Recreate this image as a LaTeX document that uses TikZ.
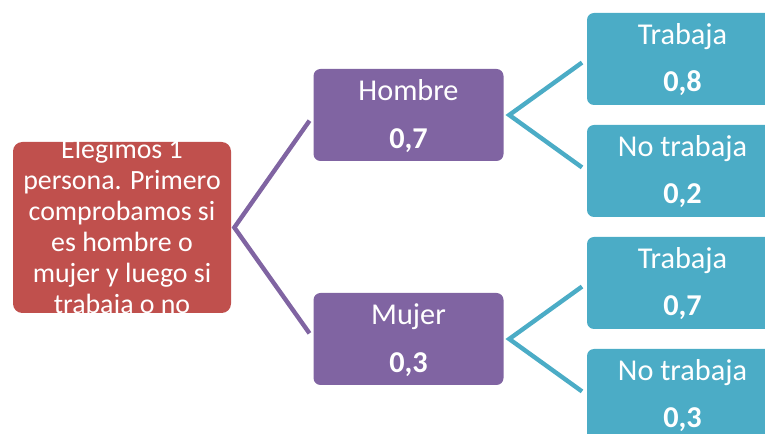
\documentclass[tikz,border=0pt]{standalone}
\usepackage{fontspec}
\setmainfont{Carlito}
\definecolor{rootred}{HTML}{C0504D}
\definecolor{levpurple}{HTML}{8064A2}
\definecolor{leafteal}{HTML}{4BACC6}
\begin{document}
\begin{tikzpicture}[x=0.75pt,y=-0.75pt,
  treebox/.style={rectangle, rounded corners=5.25pt, inner sep=0pt, outer sep=0pt, text=white},
  rootbox/.style={treebox, fill=rootred, rounded corners=7pt, minimum width=163.5pt, minimum height=128.25pt, font=\fontsize{20.9}{23.25}\selectfont},
  midbox/.style={treebox, fill=levpurple, minimum width=142.5pt, minimum height=69pt, font=\fontsize{22.7}{36}\selectfont},
  leafbox/.style={treebox, fill=leafteal, minimum width=143.25pt, minimum height=69pt, font=\fontsize{22.7}{35.25}\selectfont},
  midlink/.style={draw=levpurple, line width=3.3pt, line join=miter},
  leaflink/.style={draw=leafteal, line width=3.3pt, line join=miter}]
\clip (0,0) rectangle (765,434);
\node[rootbox] (root) at (122,227.5) {\raisebox{51.75pt}[0pt][0pt]{\begin{tabular}[t]{@{}c@{}}Elegimos 1\\persona. Primero\\comprobamos si\\es hombre o\\mujer y luego si\\trabaja o no\end{tabular}}};
\node[midbox] (h) at (408.5,115) {\raisebox{10.5pt}[0pt][0pt]{\begin{tabular}[t]{@{}c@{}}Hombre\\\textbf{0,7}\end{tabular}}};
\node[midbox] (m) at (408.5,339) {\raisebox{10.5pt}[0pt][0pt]{\begin{tabular}[t]{@{}c@{}}Mujer\\\textbf{0,3}\end{tabular}}};
\node[leafbox] (t1) at (682.5,59) {\raisebox{10.5pt}[0pt][0pt]{\begin{tabular}[t]{@{}c@{}}Trabaja\\\textbf{0,8}\end{tabular}}};
\node[leafbox] (n1) at (682.5,171) {\raisebox{10.5pt}[0pt][0pt]{\begin{tabular}[t]{@{}c@{}}No trabaja\\\textbf{0,2}\end{tabular}}};
\node[leafbox] (t2) at (682.5,283) {\raisebox{10.5pt}[0pt][0pt]{\begin{tabular}[t]{@{}c@{}}Trabaja\\\textbf{0,7}\end{tabular}}};
\node[leafbox] (n2) at (682.5,395) {\raisebox{10.5pt}[0pt][0pt]{\begin{tabular}[t]{@{}c@{}}No trabaja\\\textbf{0,3}\end{tabular}}};
\draw[midlink, shorten <=5.2pt, shorten >=5.2pt] (h.west) -- ([xshift=2.5pt]root.east) -- (m.west);
\draw[leaflink, shorten <=4.6pt, shorten >=4.6pt] (t1.west) -- ([xshift=4.3pt]h.east) -- (n1.west);
\draw[leaflink, shorten <=4.6pt, shorten >=4.6pt] (t2.west) -- ([xshift=4.3pt]m.east) -- (n2.west);
\end{tikzpicture}
\end{document}
